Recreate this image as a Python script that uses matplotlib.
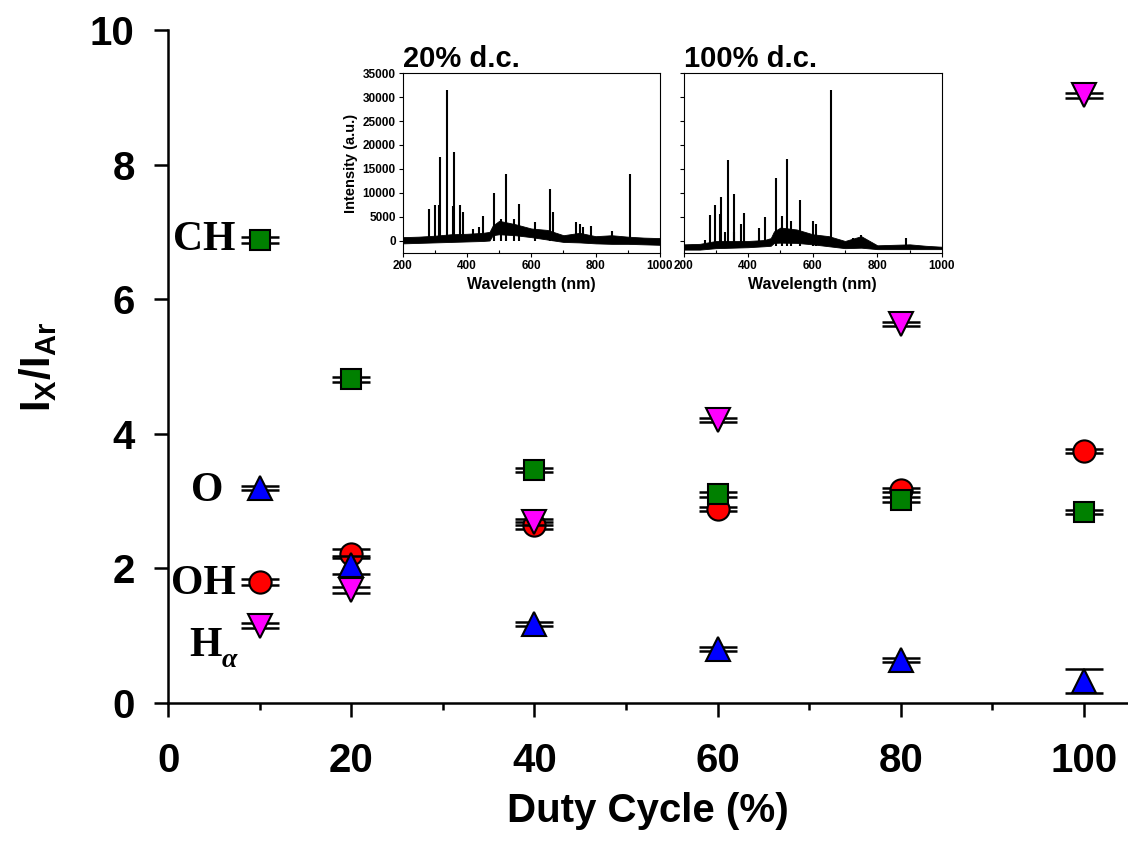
import matplotlib
matplotlib.use("Agg")
import matplotlib.pyplot as plt
from matplotlib.ticker import MultipleLocator
from matplotlib.transforms import offset_copy
import numpy as np

# main data: emission intensity ratios vs duty cycle
duty = [10, 20, 40, 60, 80, 100]
ch = [6.88, 4.81, 3.46, 3.10, 3.02, 2.84]
ch_err = [0.04, 0.04, 0.03, 0.04, 0.04, 0.03]
o = [3.20, 2.05, 1.17, 0.80, 0.64, 0.33]
o_err = [0.03, 0.13, 0.03, 0.03, 0.03, 0.18]
oh = [1.80, 2.22, 2.64, 2.88, 3.16, 3.74]
oh_err = [0.04, 0.07, 0.05, 0.03, 0.03, 0.03]
ha = [1.15, 1.68, 2.69, 4.20, 5.63, 9.03]
ha_err = [0.04, 0.05, 0.04, 0.03, 0.03, 0.04]

# inset spectra: band envelopes + discrete peaks
wl_base = [200, 250, 300, 350, 400, 450, 470, 480, 500, 550, 600, 650, 700, 750, 800, 850, 900, 950, 1000]
lo_20 = [-500, -400, -300, -200, -100, 0, 100, 1200, 1400, 1200, 800, 300, -200, -300, -500, -600, -600, -700, -800]
hi_20 = [800, 900, 1100, 1400, 1500, 1700, 1900, 3200, 4200, 3500, 2600, 2300, 1200, 1700, 1000, 1200, 900, 700, 600]
pk_wl_20 = [283, 299, 314, 317, 337, 356, 359, 377, 389, 420, 436, 451, 484, 505, 520, 545, 562, 610, 657, 668, 740, 750, 760, 787, 850, 906]
pk_h_20 = [6600, 7600, 7500, 17600, 31500, 7200, 18500, 7600, 6000, 2500, 3000, 5200, 10000, 4500, 14000, 4500, 7800, 4000, 10900, 6000, 4000, 3500, 3000, 3200, 2000, 14000]

lo_100 = [-1800, -1800, -1500, -1400, -1300, -1100, -1000, -400, -350, -400, -700, -1100, -1500, -1400, -1700, -1700, -1700, -1700, -1700]
hi_100 = [-700, -600, 0, 0, 0, 200, 600, 2000, 2800, 2400, 1400, 1000, 0, 1000, -900, -800, -700, -1000, -1200]
pk_wl_100 = [267, 283, 296, 312, 316, 329, 337, 355, 357, 379, 388, 434, 451, 485, 505, 519, 534, 560, 602, 610, 657, 724, 751, 889]
pk_h_100 = [300, 5400, 7400, 5700, 9200, 1900, 16800, 1800, 9800, 3500, 5800, 2800, 5000, 13200, 5300, 17000, 4200, 8500, 4200, 3500, 31500, 700, 1200, 700]

plt.rcParams["mathtext.fontset"] = "custom"
plt.rcParams["mathtext.bf"] = "Liberation Sans:bold"
plt.rcParams["mathtext.rm"] = "Liberation Sans:bold"

fig = plt.figure(figsize=(11.28, 8.59), dpi=100)
ax = fig.add_axes([0.149, 0.1816, 0.851, 0.7835])

# draw order matters for overlaps: OH under CH, O and H-alpha on top
series = [
    (oh, oh_err, "o", "red", 16),
    (ch, ch_err, "s", "green", 15),
    (o, o_err, "^", "blue", 17),
    (ha, ha_err, "v", "magenta", 17),
]
z = 2
for vals, err, mk, col, ms in series:
    ax.errorbar(duty, vals, yerr=err, fmt="none", ecolor="black", elinewidth=1.5,
                capsize=14, capthick=1.8, zorder=z)
    ax.plot(duty, vals, linestyle="none", marker=mk, markersize=ms, markerfacecolor=col,
            markeredgecolor="black", markeredgewidth=1.5, zorder=z + 1)
    z += 2

ax.set_xlim(0, 104.8)
ax.set_ylim(0, 10)
ax.xaxis.set_major_locator(MultipleLocator(20))
ax.xaxis.set_minor_locator(MultipleLocator(10))
ax.yaxis.set_major_locator(MultipleLocator(2))
ax.spines["top"].set_visible(False)
ax.spines["right"].set_visible(False)
for s in ["left", "bottom"]:
    ax.spines[s].set_linewidth(1.8)
ax.tick_params(axis="both", which="major", direction="out", length=10, width=1.8)
ax.tick_params(axis="x", which="minor", direction="out", length=5, width=1.8)
ax.tick_params(axis="x", which="major", pad=18)
ax.tick_params(axis="y", which="major", pad=14)
for lab in ax.get_xticklabels() + ax.get_yticklabels():
    lab.set_fontfamily("Liberation Sans")
    lab.set_fontweight("bold")
    lab.set_fontsize(29)
ax.set_xlabel("Duty Cycle (%)", fontfamily="Liberation Sans", fontweight="bold",
              fontsize=29, labelpad=9)
ax.set_ylabel(r"$\mathbf{I_X/I_{Ar}}$", fontsize=30, labelpad=22)

# species labels
lab_kw = dict(fontfamily="Liberation Serif", fontweight="bold", fontsize=30,
              ha="right", va="center")
ax.text(7.4, 6.88, "CH", **lab_kw)
ax.text(6.0, 3.15, "O", **lab_kw)
ax.text(7.4, 1.77, "OH", **lab_kw)
ax.text(5.9, 0.84, "H", **lab_kw)
ax.text(5.9, 0.84, "α", fontfamily="Liberation Serif", fontweight="bold", fontstyle="italic",
        fontsize=20, ha="left", va="center",
        transform=offset_copy(ax.transData, fig=fig, x=0, y=-10, units="points"))

# insets
def spectrum_inset(rect, lo, hi, pk_wl, pk_h, floor, title, show_y):
    ai = fig.add_axes(rect)
    ai.fill_between(wl_base, lo, hi, color="black", linewidth=0.6)
    ai.vlines(pk_wl, floor, pk_h, color="black", linewidth=1.5)
    ai.set_xlim(200, 1000)
    ai.set_ylim(-2500, 35000)
    ai.xaxis.set_major_locator(MultipleLocator(200))
    ai.xaxis.set_minor_locator(MultipleLocator(100))
    ai.yaxis.set_major_locator(MultipleLocator(5000))
    ai.tick_params(axis="both", which="major", direction="out", length=3, width=0.8, labelsize=8.5, pad=2)
    ai.tick_params(axis="x", which="minor", direction="in", length=2, width=0.8)
    for sp in ai.spines.values():
        sp.set_linewidth(0.8)
    for lab in ai.get_xticklabels() + ai.get_yticklabels():
        lab.set_fontfamily("Liberation Sans")
        lab.set_fontweight("bold")
    if not show_y:
        ai.set_yticklabels([])
    else:
        ai.set_ylabel("Intensity (a.u.)", fontfamily="Liberation Sans", fontweight="bold",
                      fontsize=10.5, labelpad=3)
    ai.set_xlabel("Wavelength (nm)", fontfamily="Liberation Sans", fontweight="bold",
                  fontsize=11.5, labelpad=4)
    ai.set_title(title, loc="left", fontfamily="Liberation Sans", fontweight="bold",
                 fontsize=21, pad=1)
    return ai

spectrum_inset([0.357, 0.7055, 0.228, 0.2095], lo_20, hi_20, pk_wl_20, pk_h_20, 0,
               "20% d.c.", True)
spectrum_inset([0.606, 0.7055, 0.229, 0.2095], lo_100, hi_100, pk_wl_100, pk_h_100, -1000,
               "100% d.c.", False)

fig.savefig("out.png", dpi=100)
